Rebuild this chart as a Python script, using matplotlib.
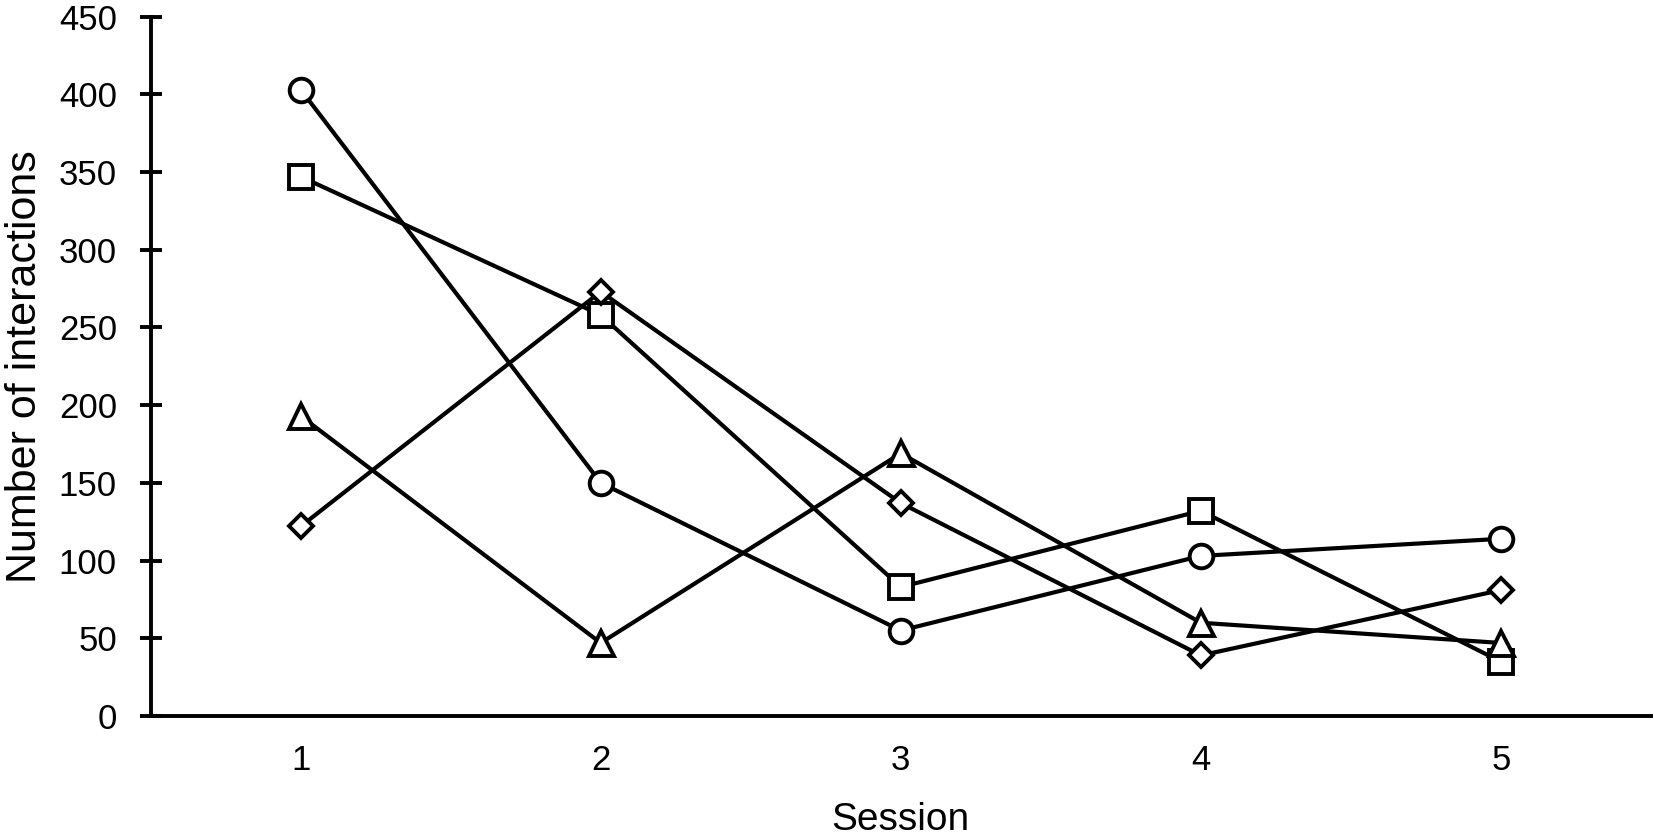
import matplotlib
matplotlib.use('Agg')
import matplotlib.pyplot as plt

plt.rcParams['font.family'] = ['Liberation Sans', 'DejaVu Sans']

sessions = [1, 2, 3, 4, 5]
circle_vals = [403, 150, 55, 103, 114]
square_vals = [347, 258, 83, 132, 35]
diamond_vals = [122, 273, 137, 39, 81]
triangle_vals = [193, 47, 169, 60, 47]

fig = plt.figure(figsize=(16.54, 8.35), dpi=100)
ax = fig.add_axes([0.0911, 0.1425, 0.907, 0.8377])

style = dict(color='black', lw=3, markerfacecolor='white',
             markeredgecolor='black', markeredgewidth=2.8, clip_on=False)
ax.plot(sessions, circle_vals, marker='o', ms=17, **style)
ax.plot(sessions, square_vals, marker='s', ms=17, **style)
ax.plot(sessions, diamond_vals, marker='D', ms=12, **style)
ax.plot(sessions, triangle_vals, marker='^', ms=18, **style)

ax.set_xlim(0.5, 5.5)
ax.set_ylim(0, 450)
ax.set_yticks(range(0, 451, 50))
ax.set_xticks(sessions)
ax.spines['top'].set_visible(False)
ax.spines['right'].set_visible(False)
for s in ['left', 'bottom']:
    ax.spines[s].set_linewidth(2.8)
ax.tick_params(axis='y', direction='inout', length=16.5, width=2.8, labelsize=25, pad=16)
ax.tick_params(axis='x', length=0, labelsize=25, pad=20)

ax.set_xlabel('Session', fontsize=28, labelpad=18)
ax.set_ylabel('Number of interactions', fontsize=31, labelpad=10)

fig.savefig('out.png', dpi=100)
